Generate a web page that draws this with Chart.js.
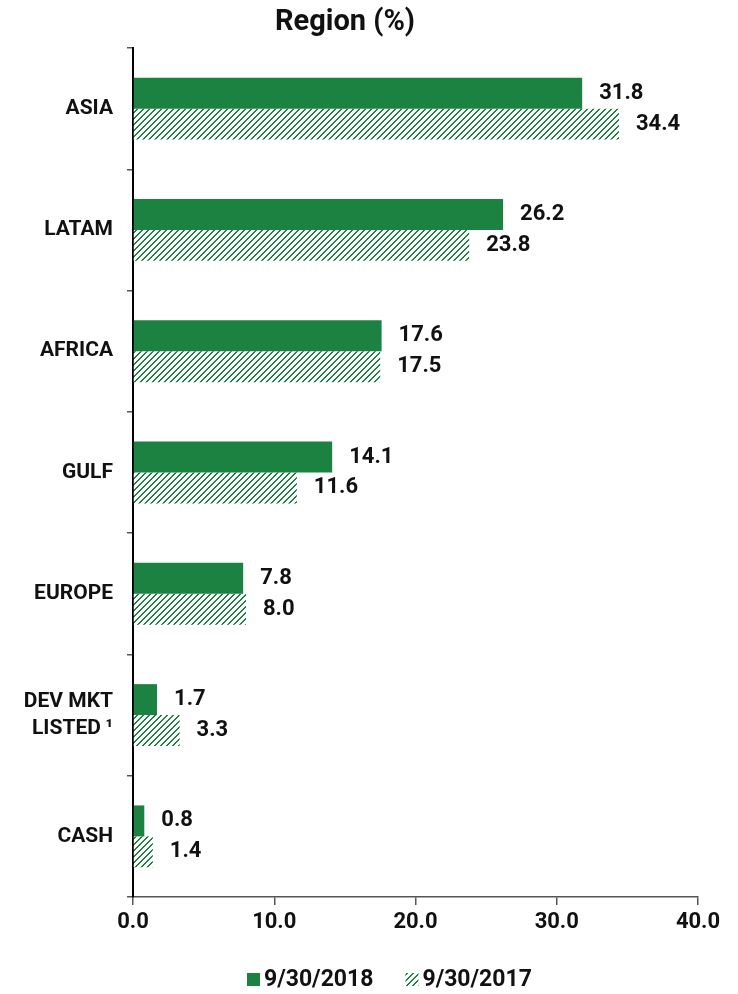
<!DOCTYPE html>
<html>
<head>
<meta charset="utf-8">
<script src="https://cdn.jsdelivr.net/npm/chart.js@4.4.0/dist/chart.umd.min.js"></script>
<style>
  html, body { margin: 0; padding: 0; background: #fff; }
  #wrap { width: 738px; height: 994px; position: relative; }
</style>
</head>
<body>
<div id="wrap"><canvas id="regionChart"></canvas></div>
<script>
const categories = ['ASIA', 'LATAM', 'AFRICA', 'GULF', 'EUROPE', ['DEV MKT', 'LISTED\u2009\u00b9'], 'CASH'];
const series2018 = [31.8, 26.2, 17.6, 14.1, 7.8, 1.7, 0.8];
const series2017 = [34.4, 23.8, 17.5, 11.6, 8.0, 3.3, 1.4];
const seriesNames = ['9/30/2018', '9/30/2017'];
const xTicks = [0, 10, 20, 30, 40];

const GREEN = '#1b8241';
const FONT = 'Roboto, "Liberation Sans", sans-serif';

// diagonal hatch fill for the older series
function makeHatch() {
    const c = document.createElement('canvas');
    c.width = 6;
    c.height = 6;
    const g = c.getContext('2d');
    g.fillStyle = '#fff';
    g.fillRect(0, 0, 6, 6);
    g.fillStyle = GREEN;
    for (let i = 0; i < 6; i++) {
        g.fillRect(i, 5 - i, 2, 1);
    }
    g.fillRect(0, 0, 1, 1);
    return g.createPattern(c, 'repeat');
}
const hatch = makeHatch();

// value written to the right of every bar
const valueLabels = {
    id: 'valueLabels',
    afterDatasetsDraw(chart) {
        const ctx = chart.ctx;
        ctx.save();
        ctx.font = 'bold 22px ' + FONT;
        ctx.fillStyle = '#111';
        ctx.textAlign = 'left';
        ctx.textBaseline = 'middle';
        chart.data.datasets.forEach((ds, i) => {
            chart.getDatasetMeta(i).data.forEach((bar, j) => {
                ctx.fillText(ds.data[j].toFixed(1), bar.x + 17, bar.y);
            });
        });
        ctx.restore();
    }
};

// title and legend row
const decorations = {
    id: 'decorations',
    afterDraw(chart) {
        const ctx = chart.ctx;
        ctx.save();
        ctx.fillStyle = '#111';
        ctx.font = 'bold 29px ' + FONT;
        ctx.textAlign = 'center';
        ctx.textBaseline = 'middle';
        ctx.fillText('Region (%)', 345, 23);

        ctx.font = 'bold 23px ' + FONT;
        ctx.textAlign = 'left';
        let x = 247;
        const y = 980;
        chart.data.datasets.forEach((ds, i) => {
            ctx.fillStyle = ds.backgroundColor;
            ctx.fillRect(x, y - 7, 13, 13);
            ctx.fillStyle = '#111';
            ctx.fillText(seriesNames[i], x + 17, y);
            x += 17 + ctx.measureText(seriesNames[i]).width + 32;
        });
        ctx.restore();
    }
};

new Chart(document.getElementById('regionChart'), {
    type: 'bar',
    data: {
        labels: categories,
        datasets: [
            { label: seriesNames[0], data: series2018, backgroundColor: GREEN,
              categoryPercentage: 0.51, barPercentage: 1.0 },
            { label: seriesNames[1], data: series2017, backgroundColor: hatch,
              categoryPercentage: 0.51, barPercentage: 1.0 }
        ]
    },
    options: {
        indexAxis: 'y',
        responsive: true,
        maintainAspectRatio: false,
        animation: false,
        layout: { padding: { top: 48, right: 40, bottom: 0, left: 0 } },
        plugins: {
            legend: { display: false },
            tooltip: { enabled: false }
        },
        scales: {
            x: {
                min: xTicks[0],
                max: xTicks[xTicks.length - 1],
                afterFit(scale) { scale.height = 97; },
                afterBuildTicks(scale) { scale.ticks = xTicks.map(v => ({ value: v })); },
                ticks: {
                    padding: 4,
                    color: '#111',
                    font: { family: FONT, size: 22, weight: 'bold' },
                    callback: v => Number(v).toFixed(1)
                },
                grid: { drawOnChartArea: false, tickLength: 8, color: '#555', lineWidth: 1.5 },
                border: { color: '#555', width: 1.5 }
            },
            y: {
                afterFit(scale) { scale.width = 133; },
                ticks: {
                    padding: 14,
                    color: '#111',
                    font: { family: FONT, size: 21, weight: 'bold', lineHeight: 1.3 }
                },
                grid: { drawOnChartArea: false, offset: true, tickLength: 6, color: '#555', lineWidth: 1.5 },
                border: { color: '#000', width: 2 }
            }
        }
    },
    plugins: [valueLabels, decorations]
});
</script>
</body>
</html>
